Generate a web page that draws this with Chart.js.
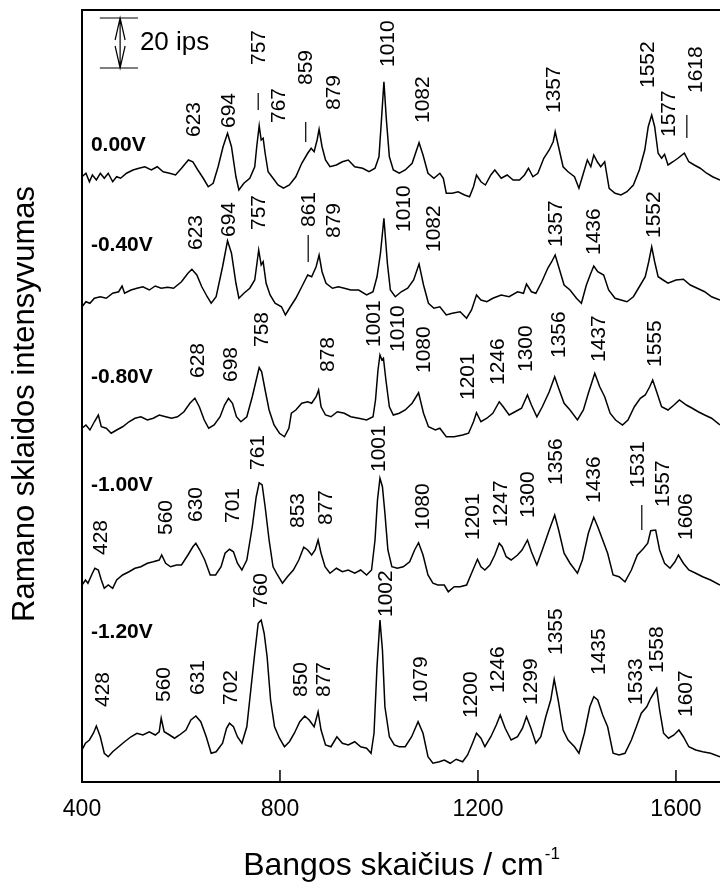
<!DOCTYPE html>
<html>
<head>
<meta charset="utf-8">
<script src="https://cdn.jsdelivr.net/npm/chart.js@4.4.0/dist/chart.umd.min.js"></script>
<style>
  body { margin: 0; background: #fff; }
  #wrap { width: 720px; height: 882px; }
</style>
</head>
<body>
<div id="wrap"><canvas id="raman" width="720" height="882"></canvas></div>
<script>
var FONT = '"Liberation Sans", Arial, sans-serif';

// potentials, vertical offset of each spectrum (ips) and where its name sits
var potentials = ['0.00V', '-0.40V', '-0.80V', '-1.00V', '-1.20V'];
var offsets = [240.8, 192.8, 144.8, 80.8, 16.8];
var potentialLabelY = [254.8, 214.8, 162, 118.8, 60];
var xTicks = [400, 800, 1200, 1600];

// spectra: [wavenumber cm-1, intensity above own baseline (ips)]
var spec0 = [[400,1.3],[408,2.7],[415,-0.7],[421,2.0],[429,0],[437,2.7],[445,0.7],[453,2.7],[462,-0.7],[470,1.3],[478,0.7],[490,2.7],[503,4.0],[515,4.7],[527,5.3],[540,4.0],[552,5.3],[564,3.3],[577,2.7],[589,2.0],[601,4.7],[615,8.0],[624,7.3],[634,4.0],[645,0.7],[655,-2.7],[665,-1.3],[675,5.3],[685,13.3],[694,18.7],[702,13.3],[711,1.3],[717,-4.0],[727,-1.3],[739,0.7],[749,5.3],[753,13.3],[758,21.7],[762,16],[766,16.7],[770,10.7],[776,3.3],[786,0.7],[796,-2.0],[807,-3.3],[819,-2.0],[832,1.3],[844,6.7],[856,10.7],[863,12.7],[869,11.3],[875,16],[879,20.3],[885,13.3],[892,8.0],[901,5.3],[914,6.0],[926,7.3],[938,8.0],[951,5.3],[967,4.7],[980,3.3],[992,4.7],[1000,9.3],[1005,24],[1010,39.3],[1015,24],[1021,9.3],[1029,4],[1041,2.7],[1053,4.0],[1067,6.7],[1081,14.9],[1089,10],[1099,2.7],[1111,0.7],[1123,2.7],[1130,0.7],[1136,-5.3],[1148,-5.3],[1160,-4.7],[1173,-6.0],[1183,-6.7],[1191,-2.7],[1197,2.0],[1206,-0.7],[1215,-2.0],[1226,2.0],[1234,4.0],[1247,0.7],[1259,2.0],[1271,0],[1284,0],[1294,2.0],[1302,4.7],[1311,1.3],[1321,2.7],[1333,8.7],[1344,12],[1352,15.3],[1356,19.3],[1362,14],[1372,5.3],[1382,3.3],[1395,1.3],[1404,-3.3],[1413,2.7],[1421,8.0],[1428,5.3],[1434,10],[1441,7.3],[1448,5.3],[1456,7.3],[1465,-3.3],[1477,-5.3],[1489,-6.0],[1501,-4.7],[1514,-2.0],[1526,4.0],[1537,12],[1544,21.3],[1551,26],[1557,21.3],[1564,10.7],[1571,8.7],[1577,10.3],[1584,6.0],[1594,7.3],[1604,8.7],[1617,10.7],[1626,7.3],[1637,6.0],[1649,4.7],[1662,2.7],[1674,1.3],[1689,0]];

var spec1 = [[400,-2.7],[408,-0.7],[416,-1.3],[425,0.7],[437,1.3],[449,0.7],[462,2.7],[474,3.3],[481,5.6],[486,2.7],[499,4.0],[511,4.7],[523,5.3],[536,4.0],[548,5.6],[560,4.7],[573,5.1],[585,4.7],[601,7.3],[614,10.7],[622,12.3],[632,10],[642,5.3],[653,1.3],[661,-1.3],[671,1.3],[684,13.3],[694,23.7],[702,18.7],[711,6.7],[717,0.7],[727,2.7],[739,4.7],[749,8.0],[757,20],[762,14],[766,15.3],[772,6.7],[780,2],[790,-1.3],[803,-2.7],[811,-6.0],[821,-2.7],[832,0.7],[844,5.3],[856,10],[864,9.3],[873,13.3],[879,18],[885,11.3],[893,6.7],[906,4.7],[918,5.3],[930,4.7],[943,4],[959,4],[975,2],[988,3.3],[996,9.3],[1003,18.7],[1010,32.7],[1017,14.7],[1023,4],[1033,1.3],[1045,3.3],[1058,4.7],[1070,8],[1081,14.4],[1090,6],[1100,-1.3],[1111,-3.3],[1123,-2.7],[1136,-6.0],[1148,-5.3],[1164,-4.7],[1177,-7.3],[1187,-4],[1197,2],[1206,0],[1218,-0.7],[1230,0.7],[1247,2],[1263,1.3],[1280,3.3],[1292,2.7],[1298,6.4],[1308,3.3],[1317,2.7],[1329,7.3],[1341,12.7],[1349,15.3],[1356,18],[1363,13.3],[1374,6],[1386,4],[1399,0.7],[1409,-1.3],[1419,6],[1428,10.7],[1434,13.6],[1442,11.3],[1454,10],[1464,4],[1477,0.7],[1489,0],[1501,-0.7],[1514,1.3],[1526,5.3],[1538,9.3],[1545,15.3],[1551,21.3],[1557,15.3],[1564,9.3],[1574,8],[1584,6.7],[1600,8],[1615,8.3],[1629,6],[1643,4.7],[1658,3.3],[1672,1.3],[1689,0]];

var spec2 = [[400,-3.3],[408,-2],[416,-4],[425,-0.7],[433,2],[439,-2.7],[449,-3.3],[459,-5.3],[470,-4],[482,-2.7],[495,-0.7],[507,0.7],[519,1.3],[532,0],[544,0.7],[556,2],[569,1.3],[581,0.7],[593,1.3],[606,3.3],[618,6.7],[628,8.7],[637,5.3],[647,0],[656,-3.3],[667,-2],[679,1.3],[688,6],[696,8.7],[704,6.7],[712,1.3],[721,-0.7],[733,1.3],[744,9.3],[752,16],[758,21],[763,19.3],[770,12],[778,4],[788,-2],[799,-5.3],[809,-6.7],[818,-3.3],[823,2.7],[832,4],[844,6.7],[856,7.3],[864,6.7],[873,9.3],[878,12],[883,5.3],[892,2],[903,1.3],[916,3.3],[930,2.7],[943,1.3],[959,0.7],[975,0],[988,1.3],[993,8],[998,20],[1002,26],[1006,24],[1009,24.7],[1014,16],[1021,5.3],[1029,2],[1041,2.7],[1053,4],[1067,6.7],[1080,10.9],[1090,2.7],[1100,-2.7],[1114,-4],[1123,-3.3],[1136,-6.7],[1152,-6.7],[1169,-6],[1181,-5.3],[1191,-0.7],[1197,2.9],[1206,-0.7],[1218,0.7],[1230,2.7],[1243,7.3],[1251,5.3],[1263,2],[1275,3.3],[1288,4.7],[1300,10],[1308,6],[1319,1.3],[1330,5.3],[1344,11.3],[1355,17.3],[1363,12.7],[1374,6.7],[1386,4],[1401,0],[1413,4],[1423,10.7],[1436,18.7],[1446,13.3],[1456,9.3],[1467,2.7],[1478,0],[1492,-2],[1503,0],[1516,5.3],[1528,8.7],[1538,10],[1547,13.3],[1553,16],[1561,11.3],[1571,5.3],[1584,4],[1596,6],[1607,8],[1621,6],[1633,4.7],[1645,3.3],[1658,2],[1672,0.7],[1689,-2]];

var spec3 = [[400,-2],[407,0],[412,-1.3],[421,2.7],[426,4.7],[433,4],[439,0],[445,-3.3],[453,-2],[462,-3.3],[470,0],[482,2],[495,3.3],[507,4.7],[519,5.3],[532,6.7],[544,7.3],[556,8],[561,10],[569,6.7],[579,5.3],[591,6],[601,6],[614,10],[624,13.3],[630,14.7],[638,12],[648,8],[659,2],[670,2],[681,5.3],[689,10.7],[698,12.3],[706,11.3],[714,6.7],[723,4],[733,8],[744,21.3],[752,33.3],[758,38.9],[764,38],[770,29.3],[778,16],[786,5.3],[795,2],[805,-1.3],[815,1.3],[827,4],[838,8],[848,13.1],[856,12],[864,10],[871,12],[877,16],[883,10.7],[891,5.3],[901,2.7],[914,4.7],[926,3.3],[938,4],[951,2.7],[963,4],[975,2],[985,4],[992,16],[997,32],[1002,40.7],[1007,37.3],[1012,26.7],[1018,12],[1026,5.3],[1037,4.7],[1049,5.3],[1062,7.3],[1072,12],[1080,14.9],[1089,10],[1099,2],[1109,-1.3],[1119,-2],[1132,-2],[1140,-4.7],[1152,-2.7],[1164,-2.7],[1177,-2],[1187,2.7],[1199,8.3],[1206,5.3],[1214,4],[1224,6],[1234,10],[1243,14.7],[1249,13.3],[1257,9.3],[1267,8],[1280,10],[1289,12],[1300,16],[1308,11.3],[1319,6],[1330,12],[1344,20],[1355,26],[1363,20],[1374,10.7],[1386,6.7],[1401,2.7],[1411,8],[1423,18.7],[1434,25.1],[1442,21.3],[1452,16],[1462,10.7],[1473,2],[1485,1.3],[1497,-0.7],[1510,4],[1522,10],[1533,12.3],[1543,14.7],[1549,19.7],[1559,20],[1567,12],[1577,6.7],[1588,4.7],[1598,7.3],[1605,10],[1615,6.7],[1626,4],[1640,2.7],[1654,1.3],[1670,0],[1689,-2]];

var spec4 = [[400,-4],[407,-1.3],[415,0],[423,2.7],[429,5.6],[437,1.3],[445,-5.3],[453,-6.7],[462,-4.7],[474,-2.7],[486,-0.7],[499,1.3],[511,2.7],[523,2],[536,3.3],[548,2],[556,3.3],[560,8.7],[566,3.3],[577,2],[587,0.7],[597,2],[610,4],[620,8],[630,9.6],[640,7.3],[651,1.3],[661,-5.3],[671,-4.7],[684,-1.3],[692,4.7],[698,6.7],[706,5.3],[714,1.3],[723,-1.3],[733,5.3],[741,20],[749,34.7],[756,46.7],[762,48],[768,42.7],[774,33.3],[781,16],[789,5.3],[799,0.7],[809,-2.7],[819,-0.7],[829,2.7],[840,7.3],[850,9.6],[859,8],[869,5.3],[877,11.3],[883,4],[892,-2],[903,-2.7],[915,1.3],[926,-1.3],[938,-2],[951,-0.7],[963,-2.7],[975,-3.3],[984,-5.3],[990,2.7],[996,29.3],[1002,48],[1007,36],[1012,13.3],[1021,1.3],[1031,-2],[1041,-2.7],[1053,-2.7],[1066,1.3],[1079,7.3],[1089,2.7],[1099,-6.7],[1109,-9.3],[1122,-8.7],[1132,-8],[1144,-9.3],[1156,-7.7],[1169,-8.7],[1179,-6],[1189,-1.3],[1197,2.7],[1206,0.7],[1214,-2.7],[1226,1.3],[1237,6],[1245,10],[1255,4.7],[1267,0],[1280,1.3],[1290,4.7],[1298,9.3],[1307,4.7],[1317,-1.3],[1327,1.3],[1337,9.3],[1347,16],[1354,24.3],[1362,16],[1372,4],[1382,0],[1395,-2.7],[1404,-5.3],[1415,2.7],[1426,13.3],[1434,17.3],[1442,16],[1452,10],[1462,5.3],[1473,-5.3],[1485,-6],[1497,-5.3],[1510,0],[1520,5.3],[1530,10.7],[1541,13.3],[1549,16.7],[1561,20.7],[1567,12],[1575,2.7],[1585,0.7],[1596,2],[1606,4],[1615,1.3],[1626,-2.7],[1640,-4],[1654,-4.7],[1670,-5.3],[1689,-6.7]];

var spectra = [spec0, spec1, spec2, spec3, spec4];

// peak annotations: [text, wavenumber of text centre, intensity where text starts]
var peakLabels = [
  ['623', 624, 258], ['694', 695, 261.6], ['757', 756, 286.8], ['767', 796, 263.6],
  ['859', 850, 278.8], ['879', 907, 268.8], ['1010', 1016, 286], ['1082', 1087, 263.6],
  ['1357', 1351, 267.6], ['1552', 1541, 277.6], ['1577', 1584, 258], ['1618', 1638, 275.6],
  ['623', 628, 212.8], ['694', 695, 218], ['757', 756, 220.8], ['861', 857, 222],
  ['879', 907, 217.6], ['1010', 1048, 220], ['1082', 1109, 212], ['1357', 1356, 214],
  ['1436', 1433, 210.8], ['1552', 1555, 217.6],
  ['628', 632, 161.6], ['698', 699, 160], ['758', 763, 174], ['878', 895, 164],
  ['1001', 988, 174], ['1010', 1036, 172], ['1080', 1089, 163.6], ['1201', 1178, 152.8],
  ['1246', 1238, 158.8], ['1300', 1295, 164], ['1356', 1362, 169.6], ['1437', 1442, 168],
  ['1555', 1557, 166],
  ['428', 437, 90.8], ['560', 568, 98.8], ['630', 628, 104], ['701', 703, 103.6],
  ['761', 753, 124.8], ['853', 834, 101.6], ['877', 891, 102.8], ['1001', 998, 124],
  ['1080', 1087, 100.8], ['1201', 1188, 96.8], ['1247', 1244, 102], ['1300', 1299, 105.6],
  ['1356', 1356, 118.8], ['1436', 1433, 111.6], ['1531', 1521, 117.6], ['1557', 1572, 110],
  ['1606', 1618, 96.8],
  ['428', 440, 30], ['560', 564, 32], ['631', 632, 34.8], ['702', 699, 30.8],
  ['760', 760, 69.6], ['850', 840, 34], ['877', 887, 34], ['1002', 1012, 66],
  ['1079', 1083, 31.6], ['1200', 1184, 25.6], ['1246', 1238, 35.6], ['1299', 1305, 30.8],
  ['1355', 1356, 50.8], ['1435', 1443, 42.8], ['1533', 1517, 30.8], ['1558', 1561, 43.6],
  ['1607', 1618, 26]
];
// short marker lines under some labels: [wavenumber, from, to]
var labelBars = [[756, 268.8, 275.6], [852, 256, 264], [1622, 257.6, 266.8], [857, 208, 218.8], [1531, 100.8, 110.8]];

// 20 ips scale bar: [x left, x centre, x right, bottom, top], text anchor
var scaleBar = [436, 477, 513, 285.6, 305.6];
var scaleText = ['20 ips', 517, 295.6];

var datasets = spectra.map(function (s, k) {
  return {
    label: potentials[k],
    data: s.map(function (p) { return [p[0], p[1] + offsets[k]]; }),
    borderColor: '#000',
    borderWidth: 1.5,
    pointRadius: 0,
    tension: 0,
    fill: false
  };
});

var decor = {
  id: 'decor',
  afterDraw: function (chart) {
    var ctx = chart.ctx, xs = chart.scales.x, ys = chart.scales.y, a = chart.chartArea;
    ctx.save();
    ctx.strokeStyle = '#000';
    ctx.fillStyle = '#000';
    // top frame line
    ctx.lineWidth = 2;
    ctx.beginPath();
    ctx.moveTo(a.left - 1, a.top);
    ctx.lineTo(chart.width, a.top);
    ctx.stroke();
    // inward tick marks
    ctx.lineWidth = 1.5;
    xTicks.forEach(function (t) {
      var px = xs.getPixelForValue(t);
      ctx.beginPath();
      ctx.moveTo(px, a.bottom);
      ctx.lineTo(px, a.bottom - 12);
      ctx.stroke();
    });
    // potential names
    ctx.font = 'bold 21px ' + FONT;
    ctx.textAlign = 'left';
    ctx.textBaseline = 'middle';
    potentials.forEach(function (p, k) {
      ctx.fillText(p, xs.getPixelForValue(418), ys.getPixelForValue(potentialLabelY[k]));
    });
    // peak labels, rotated
    ctx.font = '21px ' + FONT;
    peakLabels.forEach(function (l) {
      ctx.save();
      ctx.translate(xs.getPixelForValue(l[1]), ys.getPixelForValue(l[2]));
      ctx.rotate(-Math.PI / 2);
      ctx.fillText(l[0], 0, 1);
      ctx.restore();
    });
    ctx.lineWidth = 1.2;
    labelBars.forEach(function (b) {
      var px = xs.getPixelForValue(b[0]);
      ctx.beginPath();
      ctx.moveTo(px, ys.getPixelForValue(b[1]));
      ctx.lineTo(px, ys.getPixelForValue(b[2]));
      ctx.stroke();
    });
    // scale bar
    var x0 = xs.getPixelForValue(scaleBar[0]), xc = xs.getPixelForValue(scaleBar[1]),
        x1 = xs.getPixelForValue(scaleBar[2]);
    var yb = ys.getPixelForValue(scaleBar[3]), yt = ys.getPixelForValue(scaleBar[4]);
    ctx.lineWidth = 1.2;
    ctx.beginPath();
    ctx.moveTo(x0, yt); ctx.lineTo(x1, yt);
    ctx.moveTo(x0, yb); ctx.lineTo(x1, yb);
    ctx.moveTo(xc, yt); ctx.lineTo(xc, yb);
    ctx.moveTo(xc - 5, yt + 22); ctx.lineTo(xc, yt); ctx.lineTo(xc + 5, yt + 22);
    ctx.moveTo(xc - 5, yb - 22); ctx.lineTo(xc, yb); ctx.lineTo(xc + 5, yb - 22);
    ctx.stroke();
    ctx.font = '26px ' + FONT;
    ctx.textBaseline = 'middle';
    ctx.fillText(scaleText[0], xs.getPixelForValue(scaleText[1]), ys.getPixelForValue(scaleText[2]));
    // y title
    ctx.save();
    ctx.font = '31px ' + FONT;
    ctx.textAlign = 'center';
    ctx.translate(25, 404);
    ctx.rotate(-Math.PI / 2);
    ctx.fillText('Ramano sklaidos intensyvumas', 0, 0);
    ctx.restore();
    // x title with superscript
    var main = 'Bangos skaičius / cm', sup = '-1';
    ctx.font = '32px ' + FONT;
    var w1 = ctx.measureText(main).width;
    ctx.font = '17px ' + FONT;
    var w2 = ctx.measureText(sup).width;
    var sx = (a.left + a.right) / 2 - (w1 + w2) / 2;
    ctx.textBaseline = 'alphabetic';
    ctx.font = '32px ' + FONT;
    ctx.fillText(main, sx, 875);
    ctx.font = '17px ' + FONT;
    ctx.fillText(sup, sx + w1 + 1, 859);
    ctx.restore();
  }
};

new Chart(document.getElementById('raman'), {
  type: 'line',
  data: { datasets: datasets },
  options: {
    responsive: false,
    animation: false,
    devicePixelRatio: 1,
    layout: { padding: { left: 0, right: 0, top: 10, bottom: 0 } },
    plugins: { legend: { display: false }, tooltip: { enabled: false } },
    scales: {
      x: {
        type: 'linear',
        min: 400,
        max: 1689,
        afterFit: function (s) { s.height = 100; },
        afterBuildTicks: function (s) { s.ticks = xTicks.map(function (v) { return { value: v }; }); },
        grid: { display: false, drawTicks: false },
        border: { display: true, color: '#000', width: 2 },
        ticks: {
          color: '#000',
          font: { family: FONT, size: 23 },
          padding: 14,
          maxRotation: 0,
          autoSkip: false,
          callback: function (v) { return String(v); }
        }
      },
      y: {
        min: 0,
        max: 308.8,
        afterFit: function (s) { s.width = 82; },
        grid: { display: false, drawTicks: false },
        border: { display: true, color: '#000', width: 2 },
        ticks: { display: false },
        title: { display: false }
      }
    }
  },
  plugins: [decor]
});
</script>
</body>
</html>
